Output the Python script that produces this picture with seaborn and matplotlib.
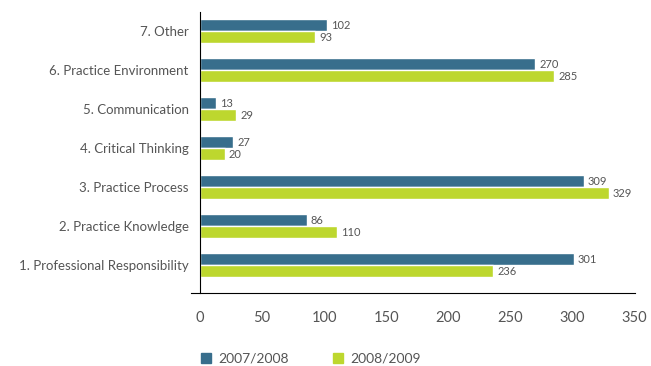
import matplotlib
matplotlib.use("Agg")
import matplotlib.pyplot as plt
import seaborn as sns
import pandas as pd
from matplotlib.lines import Line2D

categories = ["7. Other", "6. Practice Environment", "5. Communication",
              "4. Critical Thinking", "3. Practice Process",
              "2. Practice Knowledge", "1. Professional Responsibility"]
series_names = ["2007/2008", "2008/2009"]
values_2007 = [102, 270, 13, 27, 309, 86, 301]
values_2008 = [93, 285, 29, 20, 329, 110, 236]
x_ticks = [0, 50, 100, 150, 200, 250, 300, 350]

colors = ["#386e8c", "#bdd72e"]
text_color = "#555555"

df = pd.DataFrame({
    "category": categories * 2,
    "period": [series_names[0]] * len(categories) + [series_names[1]] * len(categories),
    "value": values_2007 + values_2008,
})

sns.set_style("white")
plt.rcParams["font.family"] = ["Lato", "DejaVu Sans"]

fig = plt.figure(figsize=(6.51, 3.66), dpi=100)
ax = fig.add_axes([0.307, 0.199, 0.668, 0.768])

sns.barplot(data=df, y="category", x="value", hue="period", order=categories,
            hue_order=series_names, palette=colors, orient="h", width=0.62,
            saturation=1, ax=ax, legend=False)

for cont in ax.containers:
    ax.bar_label(cont, padding=3, fontsize=8, color=text_color)

ax.set_xlim(0, 350)
ax.set_ylim(6.72, -0.49)
ax.set_xticks(x_ticks)
ax.set_xlabel("")
ax.set_ylabel("")
ax.tick_params(axis="x", direction="out", length=7, width=1, colors="black",
               labelcolor=text_color, labelsize=10.5, pad=6)
ax.tick_params(axis="y", length=0, labelcolor=text_color, labelsize=9.5, pad=8)
for s in ["top", "right"]:
    ax.spines[s].set_visible(False)
ax.spines["left"].set_color("black")
ax.spines["bottom"].set_color("black")
ax.spines["bottom"].set_bounds(-7, 350)
ax.spines["bottom"].set_clip_on(False)

handles = [Line2D([], [], marker="s", linestyle="", markersize=7,
                  markerfacecolor=c, markeredgecolor=c) for c in colors]
fig.legend(handles, series_names, loc="lower left", bbox_to_anchor=(0.287, -0.03),
           ncol=2, frameon=False, fontsize=10, handletextpad=0.4,
           columnspacing=3.0, labelcolor=text_color, handlelength=1.0)

fig.savefig("out.png", dpi=100)
